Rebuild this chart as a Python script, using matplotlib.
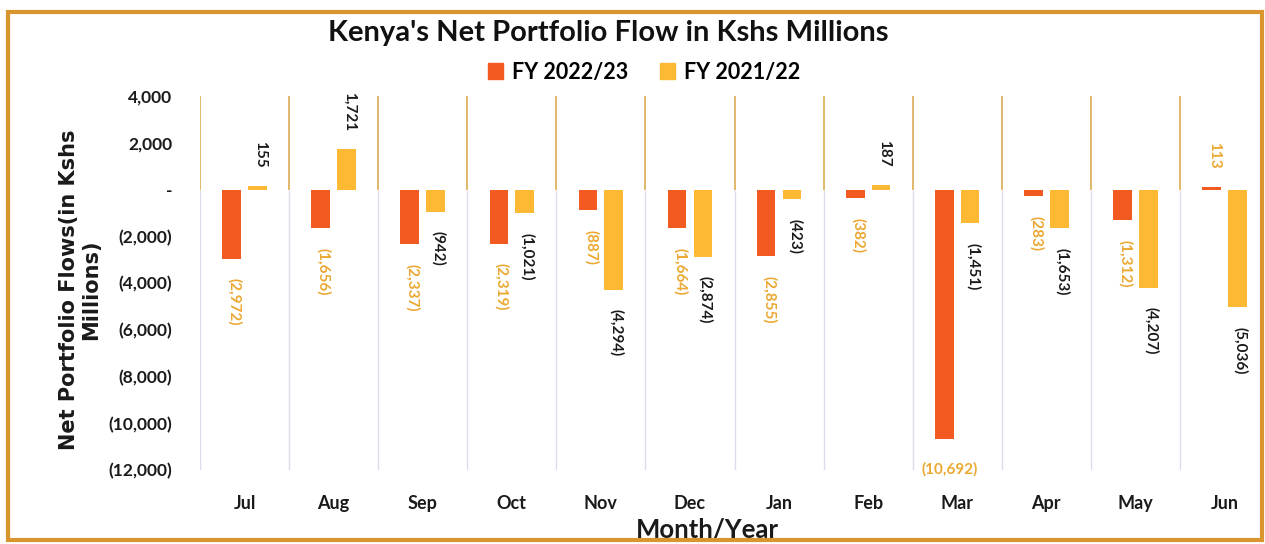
import matplotlib
matplotlib.use("Agg")
import matplotlib.pyplot as plt
from matplotlib.patches import Rectangle, Patch
import numpy as np

months = ["Jul", "Aug", "Sep", "Oct", "Nov", "Dec", "Jan", "Feb", "Mar", "Apr", "May", "Jun"]
fy2223 = [-2972, -1656, -2337, -2319, -887, -1664, -2855, -382, -10692, -283, -1312, 113]
fy2122 = [155, 1721, -942, -1021, -4294, -2874, -423, 187, -1451, -1653, -4207, -5036]
yticks = [4000, 2000, 0, -2000, -4000, -6000, -8000, -10000, -12000]
ytick_labels = ["4,000", "2,000", "-", "(2,000)", "(4,000)", "(6,000)", "(8,000)", "(10,000)", "(12,000)"]

RED = "#F25A22"
YEL = "#FDB933"
LBL_GOLD = "#EBA832"
GRID_TOP = "#D9A645"
GRID_BOT = "#DCDCEE"
BORDER = "#D9952E"

plt.rcParams['font.family'] = ['Lato', 'DejaVu Sans']

W, H = 1265, 544
fig = plt.figure(figsize=(W / 100, H / 100), dpi=100)
ax = fig.add_axes([200 / W, 1 - 470 / H, 1069 / W, (470 - 96) / H])

x = np.arange(len(months))
bw = 0.21
off = 0.145
ax.bar(x - off, fy2223, width=bw, color=RED, label="FY 2022/23", zorder=3)
ax.bar(x + off, fy2122, width=bw, color=YEL, label="FY 2021/22", zorder=3)

ax.set_xlim(-0.5, len(months) - 0.5)
ax.set_ylim(-12000, 4000)

for b in np.arange(len(months) + 1) - 0.5:
    ax.vlines(b, 0, 4000, color=GRID_TOP, lw=1.1, zorder=1)
    ax.vlines(b, -12000, 0, color=GRID_BOT, lw=1.0, zorder=1)

def fmt(v):
    s = f"{abs(v):,}"
    return f"({s})" if v < 0 else s

def label(xpos, v, color):
    if v < -9000:
        ax.annotate(fmt(v), (xpos, v), xytext=(4, -16), textcoords="offset points",
                    ha="center", va="top", color=color, fontsize=11, fontweight="bold")
        return
    if v < 0:
        ax.annotate(fmt(v), (xpos, v), xytext=(2, -14), textcoords="offset points",
                    ha="center", va="top", rotation=-90, color=color, fontsize=11,
                    fontweight="bold")
    else:
        ax.annotate(fmt(v), (xpos, v), xytext=(2, 13), textcoords="offset points",
                    ha="center", va="bottom", rotation=-90, color=color, fontsize=11,
                    fontweight="bold")

for i in range(len(months)):
    label(x[i] - off, fy2223[i], LBL_GOLD)
    label(x[i] + off, fy2122[i], "#1a1a1a")

ax.set_yticks(yticks)
ax.set_yticklabels(ytick_labels, fontsize=12.5, fontweight="bold", color="#1a1a1a")
ax.set_xticks(x)
ax.set_xticklabels(months, fontsize=13, fontweight="bold", color="#1a1a1a")
ax.tick_params(axis="both", length=0)
ax.tick_params(axis="y", pad=20)
ax.tick_params(axis="x", pad=18)
for s in ax.spines.values():
    s.set_visible(False)

fig.text(608 / W, 1 - 33 / H, "Kenya's Net Portfolio Flow in Kshs Millions",
         ha="center", va="center", fontsize=21, fontweight="bold", color="#111111")

handles = [Patch(color=RED), Patch(color=YEL)]
fig.legend(handles, ["FY 2022/23", "FY 2021/22"], loc="center",
           bbox_to_anchor=(644 / W, 1 - 72 / H), ncol=2, frameon=False,
           handlelength=0.7, handleheight=0.7, handletextpad=0.4, columnspacing=1.5,
           prop={"size": 15.5, "weight": "bold"})

fig.text(80 / W, 1 - 290 / H, "Net Portfolio Flows(in Kshs\nMillions)",
         rotation=90, ha="center", va="center", multialignment="center",
         fontsize=15, fontweight="bold", color="#1a1a1a", family="DejaVu Sans",
         linespacing=1.1)

fig.text(707 / W, 1 - 530 / H, "Month/Year", ha="center", va="center",
         fontsize=18.5, fontweight="bold", color="#1a1a1a")

fig.patches.append(Rectangle((8 / W, 1 - 540 / H), (1262 - 8) / W, (540 - 12) / H,
                             transform=fig.transFigure, fill=False, edgecolor=BORDER,
                             lw=3, zorder=10))

fig.savefig("out.png", dpi=100, facecolor="white")
